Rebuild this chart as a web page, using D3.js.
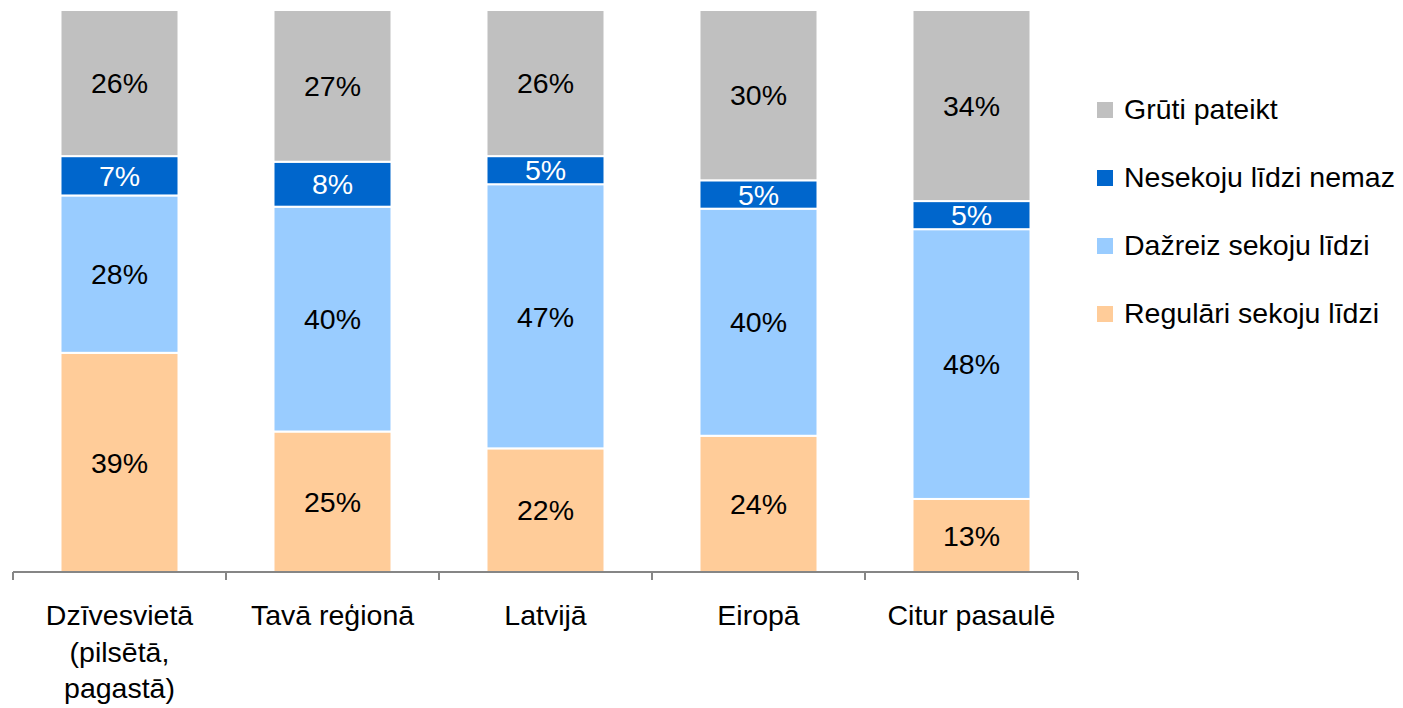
<!DOCTYPE html>
<html>
<head>
<meta charset="utf-8">
<script src="https://cdn.jsdelivr.net/npm/d3@7"></script>
<style>
  body { margin: 0; background: #fff; }
  text { font-family: "Liberation Sans", Arial, sans-serif; }
</style>
</head>
<body>
<div id="chart"></div>
<script>
// categories (x axis), split into lines
const categories = ["Dzīvesvietā (pilsētā, pagastā)", "Tavā reģionā", "Latvijā", "Eiropā", "Citur pasaulē"];
const categoryLines = [["Dzīvesvietā", "(pilsētā,", "pagastā)"], ["Tavā reģionā"], ["Latvijā"], ["Eiropā"], ["Citur pasaulē"]];

// series, bottom to top
const seriesNames = ["Regulāri sekoju līdzi", "Dažreiz sekoju līdzi", "Nesekoju līdzi nemaz", "Grūti pateikt"];
const regulari = [39, 25, 22, 24, 13];
const dazreiz = [28, 40, 47, 40, 48];
const nesekoju = [7, 8, 5, 5, 5];
const gruti = [26, 27, 26, 30, 34];
const colors = ["#FFCC99", "#99CCFF", "#0066CC", "#C0C0C0"];
const labelColors = ["#000", "#000", "#fff", "#000"];

const width = 1403, height = 708;
const fontSize = 28.5;
const margin = {top: 10, left: 13, right: 325, bottom: 136};
const plotW = 1078 - margin.left, plotH = 572 - margin.top;

const svg = d3.select("#chart").append("svg")
  .attr("width", width)
  .attr("height", height);

const g = svg.append("g")
  .attr("transform", "translate(" + margin.left + "," + margin.top + ")");

const rows = categories.map(function(c, i) {
  return {cat: c, s0: regulari[i], s1: dazreiz[i], s2: nesekoju[i], s3: gruti[i]};
});
const keys = ["s0", "s1", "s2", "s3"];
const stacked = d3.stack().keys(keys).offset(d3.stackOffsetExpand)(rows);

let x = d3.scaleBand()
  .domain(categories)
  .range([0, plotW])
  .paddingInner(0.446)
  .paddingOuter(0.223);

// band scale without padding for the axis ticks
let xAxisScale = d3.scaleBand().domain(categories).range([0, plotW]);

let y = d3.scaleLinear().domain([0, 1]).range([plotH, 0]);

// bars
stacked.forEach(function(layer, li) {
  const lg = g.append("g");
  lg.selectAll("rect")
    .data(layer)
    .enter()
    .append("rect")
    .attr("x", function(d) { return x(d.data.cat); })
    .attr("y", function(d) { return y(d[1]); })
    .attr("width", x.bandwidth())
    .attr("height", function(d) { return y(d[0]) - y(d[1]); })
    .attr("fill", colors[li])
    .attr("stroke", "#fff")
    .attr("stroke-width", 2);

  lg.selectAll("text")
    .data(layer)
    .enter()
    .append("text")
    .attr("x", function(d) { return x(d.data.cat) + x.bandwidth() / 2; })
    .attr("y", function(d) { return (y(d[0]) + y(d[1])) / 2; })
    .attr("dy", "0.36em")
    .attr("text-anchor", "middle")
    .attr("font-size", fontSize)
    .attr("fill", labelColors[li])
    .text(function(d) { return d.data[keys[li]] + "%"; });
});

// x axis
const axis = g.append("g").attr("transform", "translate(0," + plotH + ")");
axis.append("line")
  .attr("x1", 0).attr("x2", plotW)
  .attr("y1", 0).attr("y2", 0)
  .attr("stroke", "#868686").attr("stroke-width", 2);
const tickPos = categories.map(function(c) { return xAxisScale(c); }).concat([plotW]);
axis.selectAll("line.tick")
  .data(tickPos)
  .enter()
  .append("line")
  .attr("class", "tick")
  .attr("x1", function(d) { return d; })
  .attr("x2", function(d) { return d; })
  .attr("y1", 0).attr("y2", 8)
  .attr("stroke", "#868686").attr("stroke-width", 2);

categories.forEach(function(c, i) {
  const t = axis.append("text")
    .attr("x", x(c) + x.bandwidth() / 2)
    .attr("y", 53)
    .attr("text-anchor", "middle")
    .attr("font-size", fontSize)
    .attr("fill", "#000");
  categoryLines[i].forEach(function(line, j) {
    t.append("tspan")
      .attr("x", x(c) + x.bandwidth() / 2)
      .attr("dy", j === 0 ? 0 : 36.5)
      .text(line);
  });
});

// legend (top to bottom = reverse stack order)
const legendOrder = [3, 2, 1, 0];
const legend = svg.append("g").attr("transform", "translate(1097,102)");
legendOrder.forEach(function(si, k) {
  const row = legend.append("g").attr("transform", "translate(0," + (k * 68) + ")");
  row.append("rect")
    .attr("width", 16).attr("height", 16)
    .attr("fill", colors[si]);
  row.append("text")
    .attr("x", 27)
    .attr("y", 7)
    .attr("dy", "0.36em")
    .attr("font-size", fontSize)
    .attr("fill", "#000")
    .text(seriesNames[si]);
});
</script>
</body>
</html>
